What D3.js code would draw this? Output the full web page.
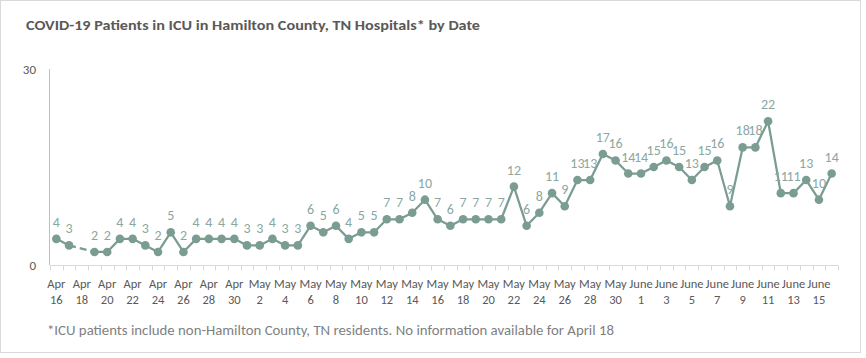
<!DOCTYPE html>
<html><head><meta charset="utf-8">
<script src="https://cdn.jsdelivr.net/npm/d3@7/dist/d3.min.js"></script>
<style>
html,body{margin:0;padding:0;background:#fff;}
svg{display:block;}
</style></head>
<body>
<svg id="c" width="866" height="358"></svg>
<script>
const months = ["Apr","May","June"];
const monthDays = [[16,30],[1,31],[1,16]];
const categories = [];
monthDays.forEach((r,i)=>{for(let d=r[0]; d<=r[1]; d++) categories.push(months[i]+" "+d);});
const values = [4,3,null,2,2,4,4,3,2,5,2,4,4,4,4,
  3,3,4,3,3,6,5,6,4,5,5,7,7,8,10,7,6,7,7,7,7,12,6,8,11,9,13,13,17,16,14,
  14,15,16,15,13,15,16,9,18,18,22,11,11,13,10,14];
const yTicks = [0,30];
const title = "COVID-19 Patients in ICU in Hamilton County, TN Hospitals* by Date";
const footnote = "*ICU patients include non-Hamilton County, TN residents. No information available for April 18";

const svg = d3.select("#c");
const font = "Carlito, Calibri, Lato, 'Open Sans', sans-serif";
svg.append("rect").attr("x",0.5).attr("y",0.5).attr("width",860).attr("height",352)
  .attr("fill","#fff").attr("stroke","#d9d9d9");

svg.append("text").attr("x",26).attr("y",30).text(title)
  .attr("font-family",font).attr("font-weight","bold").attr("font-size",14.5)
  .attr("fill","#595959").attr("textLength",454).attr("lengthAdjust","spacingAndGlyphs");

const x = d3.scaleBand().domain(categories).range([50,838]);
const y = d3.scaleLinear().domain([0,30]).range([265,69]);
const cx = d => x(d) + x.bandwidth()/2;

// y axis
svg.append("line").attr("x1",49.5).attr("x2",49.5).attr("y1",y(30)).attr("y2",y(0)).attr("stroke","#bfbfbf");
svg.selectAll(".yt").data(yTicks).join("text").attr("x",36).attr("y",d=>y(d)+5)
  .attr("text-anchor","end").attr("font-family",font).attr("font-size",13).attr("fill","#595959").text(d=>d);

// x axis
const xg = svg.append("g").attr("transform","translate(0,265.5)");
xg.append("line").attr("x1",50).attr("x2",838).attr("stroke","#d9d9d9");
const bounds = categories.map(c=>x(c)).concat([838]);
xg.selectAll(".tk").data(bounds).join("line").attr("x1",d=>Math.round(d)+0.5).attr("x2",d=>Math.round(d)+0.5)
  .attr("y1",0).attr("y2",5).attr("stroke","#d9d9d9");
const tickCats = categories.filter((c,i)=>i%2===0);
const tl = xg.selectAll(".tl").data(tickCats).join("text").attr("text-anchor","middle")
  .attr("font-family",font).attr("font-size",12.5).attr("fill","#595959");
tl.append("tspan").attr("x",d=>cx(d)).attr("y",22).text(d=>d.split(" ")[0]);
tl.append("tspan").attr("x",d=>cx(d)).attr("y",38).text(d=>d.split(" ")[1]);

// line
const color = "#7b9c92";
const pts = categories.map((c,i)=>({c, v: values[i]}));
const line = d3.line().defined(d=>d.v!==null).x(d=>cx(d.c)).y(d=>y(d.v));
// dashed gap segments
const gaps = [];
for(let i=1;i<pts.length-1;i++){
  if(pts[i].v===null){
    let j=i; while(j<pts.length && pts[j].v===null) j++;
    if(j<pts.length) gaps.push([pts[i-1],pts[j]]);
    i=j;
  }
}
svg.selectAll(".gap").data(gaps).join("path").attr("d",d=>d3.line().x(p=>cx(p.c)).y(p=>y(p.v))(d))
  .attr("fill","none").attr("stroke",color).attr("stroke-width",2.25).attr("stroke-dasharray","7,4");
svg.append("path").attr("d",line(pts)).attr("fill","none").attr("stroke",color).attr("stroke-width",2.25)
  .attr("stroke-linejoin","round");
const valid = pts.filter(d=>d.v!==null);
svg.selectAll(".pt").data(valid).join("circle").attr("cx",d=>cx(d.c)).attr("cy",d=>y(d.v)).attr("r",4.3).attr("fill",color);
svg.selectAll(".lb").data(valid).join("text").attr("x",d=>cx(d.c)).attr("y",d=>y(d.v)-12)
  .attr("text-anchor","middle").attr("font-family",font).attr("font-size",14).attr("fill","#8aa7a2").text(d=>d.v);

svg.append("text").attr("x",47).attr("y",335).text(footnote).attr("font-family",font).attr("font-size",13.5)
  .attr("fill","#7f7f7f").attr("textLength",567).attr("lengthAdjust","spacingAndGlyphs");
</script>
</body></html>
